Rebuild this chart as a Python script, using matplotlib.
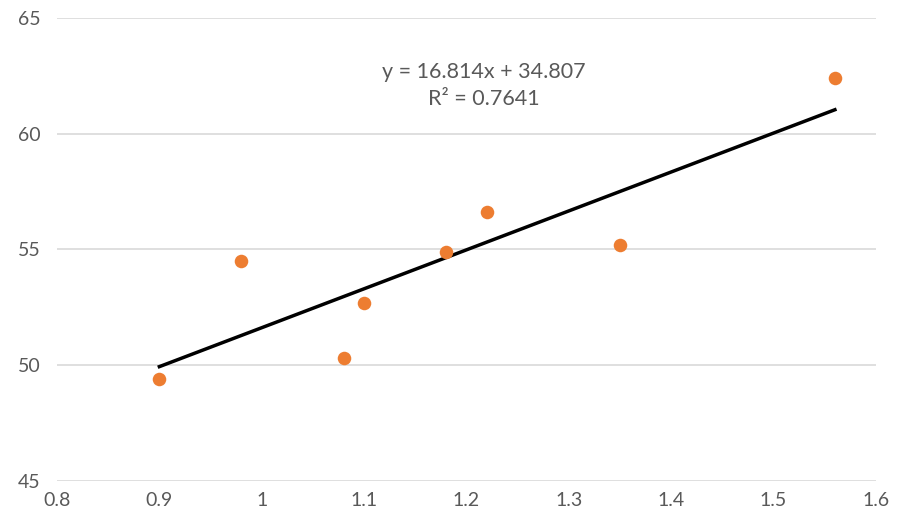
import matplotlib.pyplot as plt
import numpy as np

x_values = [0.90, 0.98, 1.08, 1.10, 1.18, 1.22, 1.35, 1.56]
y_values = [49.4, 54.5, 50.3, 52.7, 54.9, 56.6, 55.2, 62.4]
x_ticks = [0.8, 0.9, 1.0, 1.1, 1.2, 1.3, 1.4, 1.5, 1.6]
x_tick_labels = ["0.8", "0.9", "1", "1.1", "1.2", "1.3", "1.4", "1.5", "1.6"]
y_ticks = [45, 50, 55, 60, 65]
equation_text = "y = 16.814x + 34.807\nR² = 0.7641"

plt.rcParams['font.family'] = ['Lato', 'DejaVu Sans']

fig = plt.figure(figsize=(9.02, 5.21), dpi=100)
ax = fig.add_axes([0.0632, 0.0768, 0.9078, 0.8887])

# trendline
slope, intercept = np.polyfit(x_values, y_values, 1)
line_x = np.array([min(x_values), max(x_values)])
ax.plot(line_x, slope * line_x + intercept, color='black', linewidth=2.5, zorder=3)

ax.scatter(x_values, y_values, s=95, color='#ED7D31', zorder=4, linewidths=0)

ax.text(1.217, 62.1, equation_text, ha='center', va='center', fontsize=15.5,
        color='#595959', linespacing=1.45)

ax.set_xlim(0.8, 1.6)
ax.set_ylim(45, 65)
ax.set_xticks(x_ticks)
ax.set_xticklabels(x_tick_labels)
ax.set_yticks(y_ticks)
ax.grid(axis='y', color='#D9D9D9', linewidth=1.2)
ax.set_axisbelow(True)
for side in ['top', 'right', 'left', 'bottom']:
    ax.spines[side].set_visible(False)
ax.tick_params(length=0, labelsize=14, labelcolor='#595959', pad=12)
ax.tick_params(axis='x', pad=8)

fig.savefig('out.png', dpi=100)
